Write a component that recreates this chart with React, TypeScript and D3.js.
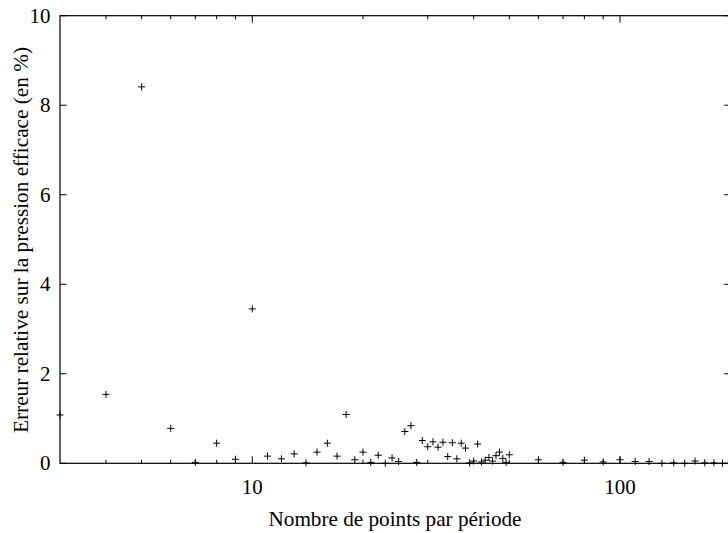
import React from "react";
import * as d3 from "d3";

const pointsPerPeriod: number[] = [
  3, 4, 5, 6, 7, 8, 9, 10, 11, 12, 13, 14, 15, 16, 17, 18, 19, 20, 21, 22, 23, 24, 25,
  26, 27, 28, 29, 30, 31, 32, 33, 34, 35, 36, 37, 38, 39, 40, 41, 42, 43, 44, 45, 46,
  47, 48, 49, 50, 60, 70, 80, 90, 100, 110, 120, 130, 140, 150, 160, 170, 180, 190, 200,
];
const relativeError: number[] = [
  1.08, 1.54, 8.41, 0.78, 0.02, 0.45, 0.09, 3.45, 0.16, 0.1, 0.21, 0.01, 0.25, 0.45, 0.16,
  1.09, 0.08, 0.25, 0.02, 0.18, 0.0, 0.12, 0.04, 0.71, 0.84, 0.02, 0.51, 0.37, 0.48, 0.36,
  0.47, 0.15, 0.46, 0.1, 0.45, 0.34, 0.01, 0.05, 0.43, 0.03, 0.07, 0.13, 0.05, 0.17, 0.25,
  0.11, 0.02, 0.19, 0.08, 0.02, 0.07, 0.03, 0.08, 0.04, 0.04, 0.0, 0.01, 0.0, 0.05, 0.01,
  0.01, 0.0, 0.0,
];
const xMajorTicks: number[] = [10, 100];
const xMinorTicks: number[] = [4, 5, 6, 7, 8, 9, 20, 30, 40, 50, 60, 70, 80, 90, 200];
const yTicks: number[] = [0, 2, 4, 6, 8, 10];
const xLabel = "Nombre de points par période";
const yLabel = "Erreur relative sur la pression efficace (en %)";

const W = 728;
const H = 533;
const L = 60;
const R = 730.7;
const T = 15.7;
const B = 463.3;
const FONT = "Liberation Serif";
const FS = 21;

export default function App() {
  const x = d3.scaleLog().domain([3, 200]).range([L, R]);
  const y = d3.scaleLinear().domain([0, 10]).range([B, T]);
  const ink = "#000";
  const arm = 3.5;
  return (
    <svg
      width={W}
      height={H}
      viewBox={`0 0 ${W} ${H}`}
      style={{ position: "fixed", left: 0, top: 0, background: "#fff" }}
    >
      <rect x={0} y={0} width={W} height={H} fill="#fff" />
      <rect x={L} y={T} width={R - L} height={B - T} fill="none" stroke={ink} strokeWidth={1.2} />
      {yTicks.map((t) => (
        <g key={"y" + t}>
          <line x1={L} x2={L + 6.5} y1={y(t)} y2={y(t)} stroke={ink} strokeWidth={1} />
          <line x1={R} x2={R - 6.5} y1={y(t)} y2={y(t)} stroke={ink} strokeWidth={1} />
          <text
            x={50.5}
            y={y(t) + 7}
            textAnchor="end"
            fontFamily={FONT}
            fontSize={FS}
            fill={ink}
          >
            {t}
          </text>
        </g>
      ))}
      {xMajorTicks.map((t) => (
        <g key={"xM" + t}>
          <line x1={x(t)} x2={x(t)} y1={B} y2={B - 7} stroke={ink} strokeWidth={1} />
          <line x1={x(t)} x2={x(t)} y1={T} y2={T + 7} stroke={ink} strokeWidth={1} />
          <text x={x(t)} y={493.5} textAnchor="middle" fontFamily={FONT} fontSize={FS} fill={ink}>
            {t}
          </text>
        </g>
      ))}
      {xMinorTicks.map((t) => (
        <g key={"xm" + t}>
          <line x1={x(t)} x2={x(t)} y1={B} y2={B - 3.5} stroke={ink} strokeWidth={1} />
          <line x1={x(t)} x2={x(t)} y1={T} y2={T + 3.5} stroke={ink} strokeWidth={1} />
        </g>
      ))}
      {pointsPerPeriod.map((n, i) => {
        const px = x(n);
        const py = y(relativeError[i]);
        return (
          <g key={"p" + i} stroke={ink} strokeWidth={1}>
            <line x1={px - arm} x2={px + arm} y1={py} y2={py} />
            <line x1={px} x2={px} y1={py - arm} y2={py + arm} />
          </g>
        );
      })}
      <text
        x={395}
        y={526}
        textAnchor="middle"
        fontFamily={FONT}
        fontSize={FS}
        textLength={253}
        lengthAdjust="spacingAndGlyphs"
        fill={ink}
      >
        {xLabel}
      </text>
      <text
        transform={`translate(28, 240) rotate(-90)`}
        textAnchor="middle"
        fontFamily={FONT}
        fontSize={FS}
        textLength={386}
        lengthAdjust="spacingAndGlyphs"
        fill={ink}
      >
        {yLabel}
      </text>
    </svg>
  );
}
